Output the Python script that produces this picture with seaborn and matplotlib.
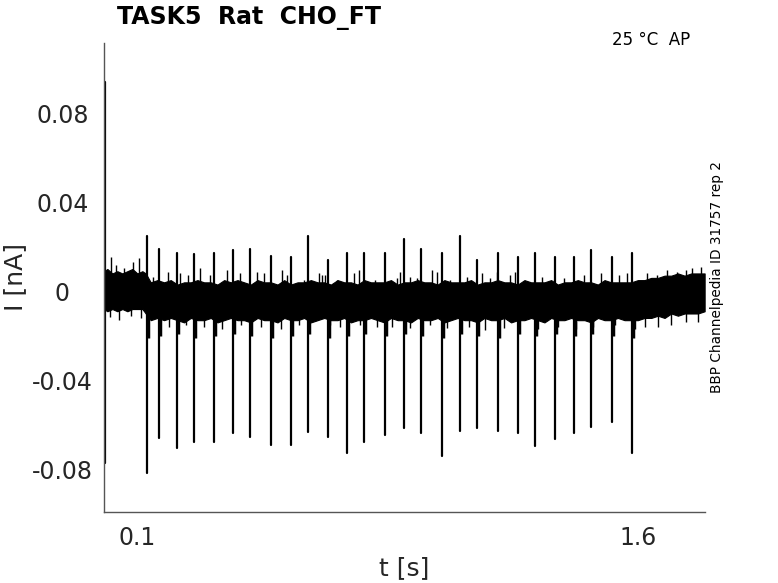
import numpy as np
import pandas as pd
import seaborn as sns
from matplotlib import pyplot as plt

# spike times [s] and peak currents [nA]
spike_t = [0.128, 0.164, 0.219, 0.270, 0.331, 0.386, 0.438, 0.501, 0.560,
           0.611, 0.671, 0.727, 0.779, 0.842, 0.900, 0.951, 1.012, 1.068,
           1.119, 1.182, 1.240, 1.292, 1.353, 1.408, 1.460, 1.522, 1.581]
spike_pos = [0.0250, 0.0189, 0.0171, 0.0166, 0.0171, 0.0186, 0.0189, 0.0159, 0.0156,
             0.0249, 0.0141, 0.0171, 0.0171, 0.0171, 0.0234, 0.0189, 0.0171, 0.0249,
             0.0141, 0.0171, 0.0156, 0.0171, 0.0156, 0.0156, 0.0186, 0.0156, 0.0171]
spike_neg = [-0.0818, -0.0661, -0.0703, -0.0677, -0.0677, -0.0638, -0.0656, -0.0692, -0.0692,
             -0.0631, -0.0656, -0.0725, -0.0677, -0.0647, -0.0616, -0.0638, -0.0740, -0.0627,
             -0.0616, -0.0627, -0.0638, -0.0695, -0.0662, -0.0638, -0.0609, -0.0586, -0.0725]
# depth of the dark wedge just after each spike
spike_dip = [-0.021, -0.020, -0.019, -0.021, -0.020, -0.019, -0.020, -0.021, -0.020,
             -0.019, -0.021, -0.020, -0.019, -0.020, -0.019, -0.020, -0.021, -0.019,
             -0.020, -0.021, -0.019, -0.020, -0.019, -0.020, -0.019, -0.020, -0.021]

# onset transient at t = 0
onset_t = 0.002
onset_hi = 0.094
onset_lo = -0.077

# envelope of the noise band
env_t = [0.000, 0.010, 0.025, 0.040, 0.055, 0.070, 0.085, 0.100, 0.115, 0.125,
         0.140, 0.160, 0.180, 0.200, 0.220, 0.240, 0.260, 0.280, 0.300, 0.320,
         0.340, 0.360, 0.380, 0.400, 0.420, 0.440, 0.460, 0.480, 0.500, 0.520,
         0.540, 0.560, 0.580, 0.600, 0.620, 0.640, 0.660, 0.680, 0.700, 0.720,
         0.740, 0.760, 0.780, 0.800, 0.820, 0.840, 0.860, 0.880, 0.900, 0.920,
         0.940, 0.960, 0.980, 1.000, 1.020, 1.040, 1.060, 1.080, 1.100, 1.120,
         1.140, 1.160, 1.180, 1.200, 1.220, 1.240, 1.260, 1.280, 1.300, 1.320,
         1.340, 1.360, 1.380, 1.400, 1.420, 1.440, 1.460, 1.480, 1.500, 1.520,
         1.540, 1.560, 1.580, 1.600, 1.620, 1.640, 1.660, 1.680, 1.700, 1.720,
         1.740, 1.760, 1.780, 1.800]
env_hi = [0.009, 0.010, 0.008, 0.009, 0.008, 0.009, 0.010, 0.008, 0.009, 0.008,
          0.004, 0.005, 0.004, 0.005, 0.003, 0.004, 0.004, 0.005, 0.004, 0.004,
          0.003, 0.005, 0.004, 0.005, 0.004, 0.003, 0.005, 0.004, 0.004, 0.003,
          0.005, 0.003, 0.004, 0.004, 0.005, 0.004, 0.004, 0.003, 0.005, 0.004,
          0.004, 0.003, 0.005, 0.004, 0.004, 0.004, 0.005, 0.003, 0.004, 0.004,
          0.005, 0.004, 0.004, 0.003, 0.005, 0.004, 0.004, 0.004, 0.005, 0.003,
          0.004, 0.004, 0.005, 0.004, 0.004, 0.003, 0.005, 0.004, 0.004, 0.004,
          0.005, 0.003, 0.004, 0.004, 0.005, 0.004, 0.004, 0.003, 0.005, 0.004,
          0.004, 0.004, 0.004, 0.005, 0.005, 0.006, 0.006, 0.007, 0.007, 0.008,
          0.007, 0.008, 0.008, 0.008]
env_lo = [-0.008, -0.009, -0.008, -0.009, -0.008, -0.009, -0.008, -0.008, -0.008, -0.010,
          -0.013, -0.012, -0.013, -0.012, -0.013, -0.014, -0.012, -0.013, -0.013, -0.012,
          -0.014, -0.013, -0.012, -0.013, -0.013, -0.014, -0.012, -0.013, -0.013, -0.014,
          -0.012, -0.013, -0.013, -0.012, -0.014, -0.013, -0.012, -0.013, -0.013, -0.012,
          -0.014, -0.013, -0.013, -0.012, -0.013, -0.014, -0.012, -0.013, -0.013, -0.014,
          -0.012, -0.013, -0.013, -0.012, -0.014, -0.013, -0.012, -0.013, -0.013, -0.014,
          -0.012, -0.013, -0.013, -0.012, -0.014, -0.013, -0.013, -0.012, -0.013, -0.014,
          -0.012, -0.013, -0.013, -0.012, -0.013, -0.013, -0.014, -0.012, -0.013, -0.013,
          -0.012, -0.013, -0.013, -0.013, -0.012, -0.012, -0.011, -0.012, -0.010, -0.011,
          -0.010, -0.010, -0.010, -0.009]

# taller noise excursions sticking out of the band
noise_up_t = [0.020, 0.036, 0.060, 0.088, 0.106, 0.148, 0.193, 0.228, 0.253, 0.288,
              0.318, 0.368, 0.408, 0.458, 0.478, 0.533, 0.548, 0.598, 0.643, 0.653,
              0.663, 0.698, 0.748, 0.763, 0.813, 0.878, 0.888, 0.918, 0.938, 0.983,
              0.998, 1.038, 1.088, 1.133, 1.158, 1.178, 1.218, 1.233, 1.313, 1.348,
              1.378, 1.438, 1.488, 1.543, 1.568, 1.628, 1.658, 1.688, 1.718, 1.743,
              1.763, 1.788]
noise_up = [0.0156, 0.0118, 0.0103, 0.0133, 0.0148, 0.0066, 0.0088, 0.0081, 0.0073, 0.0103,
            0.0073, 0.0096, 0.0081, 0.0088, 0.0081, 0.0096, 0.0073, 0.0051, 0.0081, 0.0073,
            0.0073, 0.0051, 0.0081, 0.0096, 0.0051, 0.0058, 0.0088, 0.0066, 0.0058, 0.0096,
            0.0088, 0.0051, 0.0066, 0.0081, 0.0058, 0.0088, 0.0073, 0.0088, 0.0066, 0.0051,
            0.0058, 0.0073, 0.0081, 0.0073, 0.0081, 0.0081, 0.0073, 0.0096, 0.0088, 0.0096,
            0.0103, 0.0111]
noise_dn_t = [0.018, 0.046, 0.080, 0.110, 0.195, 0.245, 0.300, 0.355, 0.410, 0.470,
              0.530, 0.585, 0.678, 0.708, 0.768, 0.818, 0.863, 0.918, 0.978, 1.028,
              1.093, 1.143, 1.198, 1.243, 1.300, 1.360, 1.415, 1.465, 1.530, 1.590,
              1.620, 1.660, 1.700, 1.745, 1.780]
noise_dn = [-0.0114, -0.0129, -0.0110, -0.0120, -0.0160, -0.0150, -0.0160, -0.0170, -0.0150, -0.0160,
            -0.0170, -0.0150, -0.0151, -0.0159, -0.0151, -0.0159, -0.0159, -0.0166, -0.0151, -0.0166,
            -0.0159, -0.0174, -0.0166, -0.0160, -0.0170, -0.0160, -0.0170, -0.0160, -0.0150, -0.0170,
            -0.0160, -0.0160, -0.0150, -0.0140, -0.0140]

x_ticks = [0.1, 1.6]
x_ticklabels = ["0.1", "1.6"]
y_ticks = [-0.08, -0.04, 0, 0.04, 0.08]
y_ticklabels = ["-0.08", "-0.04", "0", "0.04", "0.08"]

sns.set_theme(style="white")
plt.rcParams["font.family"] = ["DejaVu Sans"]

# long-form table: one vertical stroke per spike
rows = []
for i, (t, hi, lo) in enumerate(zip([onset_t] + spike_t, [onset_hi] + spike_pos, [onset_lo] + spike_neg)):
    rows.append({"spike": i, "t": t, "I": hi})
    rows.append({"spike": i, "t": t, "I": lo})
spikes = pd.DataFrame(rows)

fig = plt.figure(figsize=(7.78, 5.83), dpi=100)
ax = fig.add_axes([0.1337, 0.1218, 0.772, 0.805])

ax.fill_between(env_t, env_lo, env_hi, color="black", linewidth=0.8, edgecolor="black")
ax.vlines(noise_up_t, 0, noise_up, color="black", linewidth=1.0)
ax.vlines(noise_dn_t, noise_dn, 0, color="black", linewidth=1.0)
ax.vlines(np.array(spike_t) + 0.003, spike_dip, 0, color="black", linewidth=2.5)
sns.lineplot(data=spikes, x="t", y="I", units="spike", estimator=None, sort=False,
             color="black", linewidth=1.6, ax=ax)

ax.set_xlim(0, 1.8)
ax.set_ylim(-0.0992, 0.1117)
ax.set_xticks(x_ticks)
ax.set_xticklabels(x_ticklabels)
ax.set_yticks(y_ticks)
ax.set_yticklabels(y_ticklabels)
ax.tick_params(direction="in", length=6, width=1, colors="#404040",
               labelcolor="#262626", labelsize=17)
ax.tick_params(axis="x", pad=10)
ax.tick_params(axis="y", pad=30)
for lab in ax.get_yticklabels():
    lab.set_horizontalalignment("center")
for side in ["top", "right"]:
    ax.spines[side].set_visible(False)
for side in ["left", "bottom"]:
    ax.spines[side].set_color("#555555")
    ax.spines[side].set_linewidth(1)

ax.set_xlabel("t [s]", fontsize=18, color="#262626")
ax.set_ylabel("I [nA]", fontsize=18, color="#262626")
ax.xaxis.set_label_coords(0.5, -0.094)
ax.yaxis.set_label_coords(-0.128, 0.5)

fig.text(0.150, 0.969, "TASK5  Rat  CHO_FT", fontsize=17, fontweight="bold",
         ha="left", va="center", color="black")
fig.text(0.887, 0.931, "25 °C  AP", fontsize=12, ha="right", va="center", color="black")
fig.text(0.921, 0.525, "BBP Channelpedia ID 31757 rep 2", fontsize=9.8,
         rotation=90, ha="center", va="center", color="black")

fig.savefig("out.png", dpi=100)
